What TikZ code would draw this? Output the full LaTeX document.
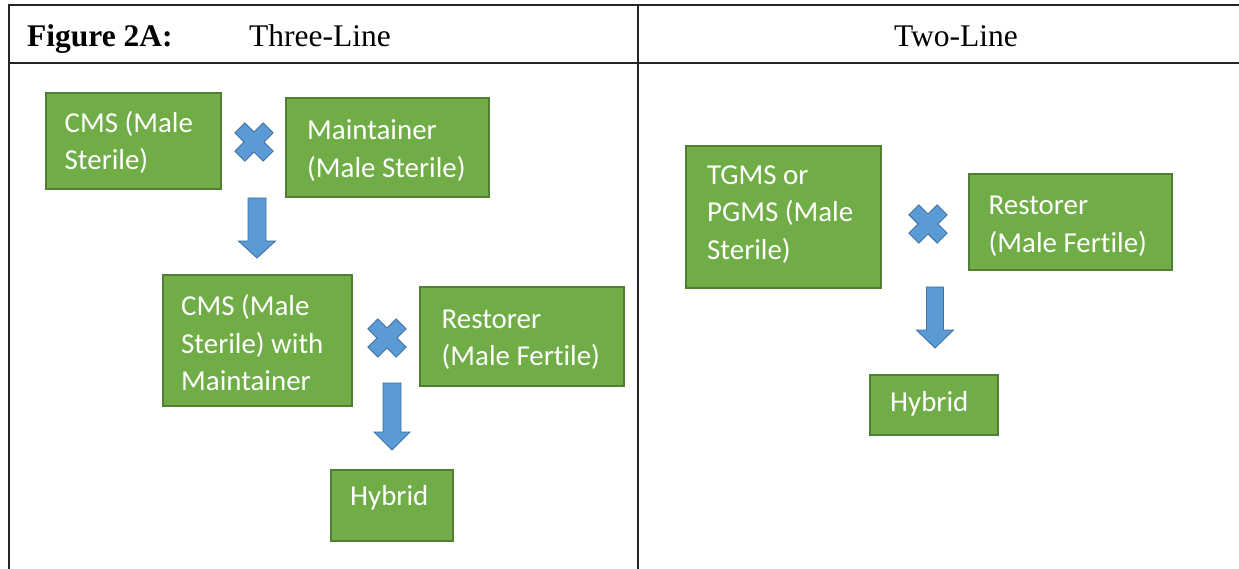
\documentclass[tikz,border=0pt]{standalone}
\usepackage{fontspec}
\setmainfont{Liberation Serif}
\newfontfamily\boxfont[Ligatures=NoCommon]{Carlito}
\definecolor{boxgreen}{HTML}{70AD47}
\definecolor{boxedge}{HTML}{507E32}
\definecolor{markblue}{HTML}{5B9BD5}
\definecolor{markedge}{HTML}{41719C}
\definecolor{rulecol}{HTML}{262626}

% downward block arrow: centre x, top y, shaft half width, head start y, head half width, tip y
\newcommand\blockdown[6]{%
  \draw[bluemark] (#1-#3,#2) -- (#1-#3,#4) -- (#1-#5,#4) -- (#1,#6)
    -- (#1+#5,#4) -- (#1+#3,#4) -- (#1+#3,#2) -- cycle;}

\tikzset{
  x=1pt, y=-1pt,
  rule/.style={draw=rulecol, line width=1.8pt},
  gbox/.style={rectangle, fill=boxgreen, draw=boxedge, line width=1.3pt, inner sep=0pt},
  btext/.style={inner sep=0pt, anchor=base west, text=white,
    font=\boxfont\fontsize{28.9}{37.5}\selectfont},
  htext/.style={inner sep=0pt, font=\fontsize{31.5}{36}\selectfont},
  bluemark/.style={fill=markblue, draw=markedge, line width=0.9pt, line join=miter},
  mulsign/.pic={
    \begin{scope}[rotate=45]
      \draw[bluemark] (7,20) -- (7,7) -- (20,7) -- (20,-7) -- (7,-7) -- (7,-20)
        -- (-7,-20) -- (-7,-7) -- (-20,-7) -- (-20,7) -- (-7,7) -- (-7,20) -- cycle;
    \end{scope}}
}

\begin{document}
\begin{tikzpicture}
\useasboundingbox (0,0) rectangle (1239,569);
\fill[white] (0,0) rectangle (1239,569);

% table frame
\draw[rule] (9,569) -- (9,5) -- (1239,5);
\draw[rule] (9,63) -- (1239,63);
\draw[rule] (638,5) -- (638,569);

% header
\node[htext, anchor=base west] (fig) at (27,46.5) {\bfseries Figure 2A:};
\node[htext, anchor=base west] (three) at (249,46.5) {Three-Line};
\node[htext, anchor=base] (two) at (956,46.5) {Two-Line};

% three-line system
\node[gbox, minimum width=175pt, minimum height=96pt] (cms) at (133.5,141) {};
\node[gbox, minimum width=203pt, minimum height=99pt] (maint) at (387.5,147.5) {};
\node[gbox, minimum width=189pt, minimum height=131pt] (cmsm) at (257.5,340.5) {};
\node[gbox, minimum width=204pt, minimum height=99pt] (restA) at (522,336.5) {};
\node[gbox, minimum width=122pt, minimum height=71pt] (hybA) at (392,505.5) {};

\node[btext] (cmsT) at (64.5,132.3) {\begin{tabular}[t]{@{}l@{}}CMS (Male\\Sterile)\end{tabular}};
\node[btext] (maintT) at (307,140) {\begin{tabular}[t]{@{}l@{}}Maintainer\\(Male Sterile)\end{tabular}};
\node[btext] (cmsmT) at (181,315.6) {\begin{tabular}[t]{@{}l@{}}CMS (Male\\Sterile) with\\Maintainer\end{tabular}};
\node[btext] (restAT) at (441.5,328.3) {\begin{tabular}[t]{@{}l@{}}Restorer\\(Male Fertile)\end{tabular}};
\node[btext] (hybAT) at (350,505) {Hybrid};

\pic at (254,142) {mulsign};
\pic at (387,338) {mulsign};
\blockdown{257}{198}{9}{241}{18.5}{258}
\blockdown{392}{383}{9}{432}{18}{450}

% two-line system
\node[gbox, minimum width=195pt, minimum height=142pt] (tgms) at (783.5,217) {};
\node[gbox, minimum width=203pt, minimum height=96pt] (restB) at (1070.5,222) {};
\node[gbox, minimum width=128pt, minimum height=60pt] (hybB) at (934,405) {};

\node[btext] (tgmsT) at (707,184.3) {\begin{tabular}[t]{@{}l@{}}TGMS or\\PGMS (Male\\Sterile)\end{tabular}};
\node[btext] (restBT) at (988.5,215) {\begin{tabular}[t]{@{}l@{}}Restorer\\(Male Fertile)\end{tabular}};
\node[btext] (hybBT) at (890,411.6) {Hybrid};

\pic at (928,224) {mulsign};
\blockdown{935}{287}{8.5}{330}{18.5}{348}
\end{tikzpicture}
\end{document}
